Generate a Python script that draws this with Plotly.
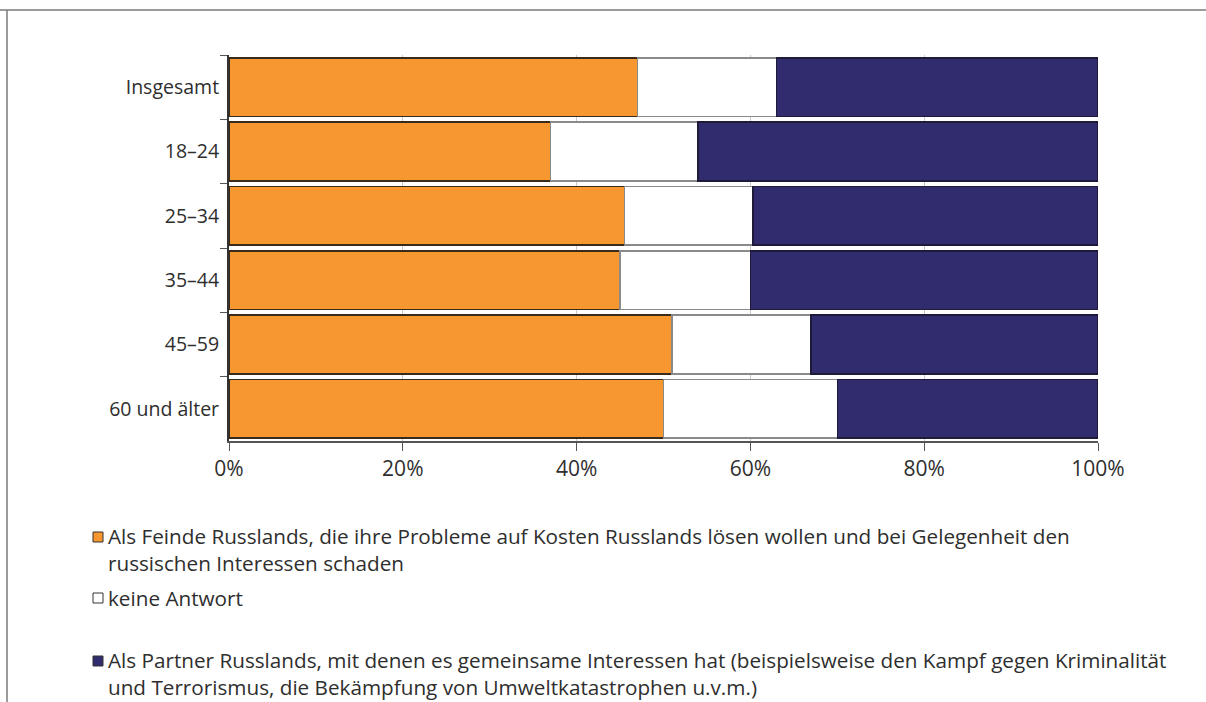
import plotly.graph_objects as go

# Survey groups (top to bottom) and answer shares in percent
groups = ["Insgesamt", "18–24", "25–34", "35–44", "45–59", "60 und älter"]
feinde = [47, 37, 45.5, 45, 51, 50]
keine_antwort = [16, 17, 14.8, 15, 16, 20]
partner = [37, 46, 39.7, 40, 33, 30]

series_names = [
    "Als Feinde Russlands, die ihre Probleme auf Kosten Russlands lösen wollen und bei Gelegenheit den<br>russischen Interessen schaden",
    "keine Antwort",
    "Als Partner Russlands, mit denen es gemeinsame Interessen hat (beispielsweise den Kampf gegen Kriminalität<br>und Terrorismus, die Bekämpfung von Umweltkatastrophen u.v.m.)",
]
series_values = [feinde, keine_antwort, partner]
fill_colors = ["#F7972F", "#FFFFFF", "#302C6E"]
edge_colors = ["#3A2A1A", "#8A8A8A", "#1E1B3A"]
x_ticks = [0, 20, 40, 60, 80, 100]
x_tick_labels = ["0%", "20%", "40%", "60%", "80%", "100%"]

FONT = "'Open Sans', sans-serif"
TEXT = "#2E2E2E"

fig = go.Figure()
for name, vals, fc, ec in zip(series_names, series_values, fill_colors, edge_colors):
    fig.add_trace(go.Bar(
        y=groups, x=vals, orientation="h", name=name,
        marker=dict(color=fc, line=dict(color=ec, width=1.6)),
        showlegend=False, hoverinfo="x+y",
    ))

fig.update_layout(
    width=1206, height=702,
    margin=dict(l=229, r=108, t=55, b=261),
    barmode="stack", bargap=0.09,
    paper_bgcolor="white", plot_bgcolor="white",
    font=dict(family=FONT, size=19, color=TEXT),
)
fig.update_xaxes(
    range=[0, 100], tickvals=x_ticks, ticktext=x_tick_labels,
    showgrid=True, gridcolor="#C8C8C8", gridwidth=1,
    showline=True, linecolor="#555555", linewidth=1.5,
    ticks="outside", ticklen=8, tickcolor="#555555",
    tickfont=dict(family=FONT, size=21, color=TEXT),
    zeroline=False, fixedrange=True,
)
fig.update_yaxes(
    autorange="reversed", tickson="boundaries",
    showline=True, linecolor="#333333", linewidth=2,
    ticks="outside", ticklen=7, tickcolor="#555555",
    tickfont=dict(family=FONT, size=19.5, color=TEXT),
    ticklabelstandoff=4, fixedrange=True,
)

# Frame lines along the top and left edge of the graphic
fig.add_shape(type="line", xref="paper", yref="paper", x0=-229/869, x1=(1206-229)/869,
              y0=1 + 45/386, y1=1 + 45/386, line=dict(color="#7A7A7A", width=1.5))
fig.add_shape(type="line", xref="paper", yref="paper", x0=-222/869, x1=-222/869,
              y0=1 + 45/386, y1=-1, line=dict(color="#7A7A7A", width=1.5))

# Legend: colour swatches with wrapped descriptions
legend_rows = [(537, 549), (598, 598), (661, 673.5)]
for (sq_y, txt_y), name, fc, ec in zip(legend_rows, series_names, fill_colors, edge_colors):
    fig.add_shape(type="rect", xref="paper", yref="paper",
                  x0=(93 - 229) / 869, x1=(103 - 229) / 869,
                  y0=(441 - (sq_y + 5)) / 386, y1=(441 - (sq_y - 5)) / 386,
                  fillcolor=fc, line=dict(color="#333333", width=1))
    fig.add_annotation(xref="paper", yref="paper", x=(106 - 229) / 869,
                       y=(441 - txt_y) / 386, text=name, showarrow=False,
                       xanchor="left", yanchor="middle", align="left",
                       font=dict(family=FONT, size=20.7, color=TEXT))

fig.write_html("out.html")
